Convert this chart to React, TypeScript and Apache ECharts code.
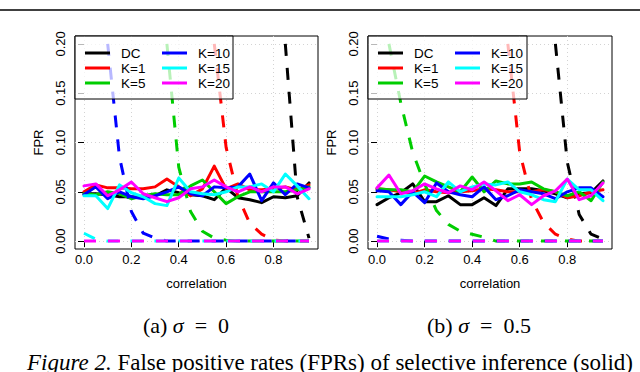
import React, { useEffect, useRef } from "react";
import * as echarts from "echarts";

const correlation = [0, 0.05, 0.1, 0.15, 0.2, 0.25, 0.3, 0.35, 0.4, 0.45, 0.5, 0.55, 0.6, 0.65, 0.7, 0.75, 0.8, 0.85, 0.9, 0.95];
const methods = ["DC", "K=1", "K=5", "K=10", "K=15", "K=20"];
const methodColors = ["#000000", "#FF0000", "#00CD00", "#0000FF", "#00FFFF", "#FF00FF"];
const xTicks = [0, 0.2, 0.4, 0.6, 0.8];
const yTicks = [0, 0.05, 0.1, 0.15, 0.2];

// (a) sigma = 0 : selective inference (solid)
const selA_DC = [0.048, 0.048, 0.047, 0.045, 0.045, 0.044, 0.046, 0.052, 0.049, 0.047, 0.046, 0.042, 0.054, 0.044, 0.042, 0.039, 0.045, 0.044, 0.046, 0.059];
const selA_K1 = [0.050, 0.057, 0.054, 0.054, 0.053, 0.053, 0.055, 0.063, 0.055, 0.046, 0.053, 0.076, 0.053, 0.058, 0.052, 0.052, 0.053, 0.055, 0.052, 0.057];
const selA_K5 = [0.048, 0.047, 0.050, 0.048, 0.043, 0.046, 0.048, 0.047, 0.047, 0.056, 0.062, 0.050, 0.038, 0.045, 0.050, 0.050, 0.050, 0.050, 0.052, 0.055];
const selA_K10 = [0.047, 0.055, 0.043, 0.050, 0.045, 0.043, 0.046, 0.050, 0.055, 0.048, 0.046, 0.055, 0.054, 0.055, 0.068, 0.041, 0.059, 0.047, 0.058, 0.054];
const selA_K15 = [0.046, 0.046, 0.033, 0.057, 0.049, 0.045, 0.038, 0.036, 0.064, 0.050, 0.048, 0.047, 0.050, 0.055, 0.055, 0.058, 0.050, 0.068, 0.056, 0.043];
const selA_K20 = [0.056, 0.058, 0.046, 0.052, 0.060, 0.048, 0.044, 0.040, 0.044, 0.053, 0.055, 0.062, 0.055, 0.050, 0.055, 0.050, 0.055, 0.055, 0.048, 0.053];

// (a) sigma = 0 : comparison method (dashed)
const dashA_DC = [null, null, null, null, null, null, null, null, null, null, null, null, null, null, null, null, null, 0.2, 0.045, 0.003];
const dashA_K1 = [null, null, null, null, null, null, null, null, null, null, null, 0.2, 0.095, 0.045, 0.018, 0.007, 0.001, 0, 0, 0];
const dashA_K5 = [null, null, null, null, null, null, null, 0.2, 0.075, 0.03, 0.01, 0.003, 0.001, 0, 0, 0, 0, 0, 0, 0];
const dashA_K10 = [null, null, 0.2, 0.085, 0.03, 0.008, 0.003, 0, 0, 0, 0, 0, 0, 0, 0, 0, 0, 0, 0, 0];
const dashA_K15 = [0.008, 0.002, 0, 0, 0, 0, 0, 0, 0, 0, 0, 0, 0, 0, 0, 0, 0, 0, 0, 0];
const dashA_K20 = [0, 0, 0, 0, 0, 0, 0, 0, 0, 0, 0, 0, 0, 0, 0, 0, 0, 0, 0, 0];

// (b) sigma = 0.5 : selective inference (solid)
const selB_DC = [0.037, 0.044, 0.049, 0.058, 0.040, 0.040, 0.046, 0.037, 0.037, 0.044, 0.036, 0.053, 0.053, 0.053, 0.051, 0.048, 0.044, 0.048, 0.049, 0.061];
const selB_K1 = [0.053, 0.052, 0.050, 0.048, 0.052, 0.050, 0.049, 0.050, 0.051, 0.053, 0.052, 0.050, 0.050, 0.050, 0.052, 0.050, 0.044, 0.046, 0.050, 0.052];
const selB_K5 = [0.053, 0.052, 0.052, 0.050, 0.066, 0.060, 0.055, 0.050, 0.065, 0.050, 0.061, 0.058, 0.058, 0.060, 0.053, 0.050, 0.046, 0.050, 0.041, 0.060];
const selB_K10 = [0.051, 0.050, 0.037, 0.050, 0.039, 0.059, 0.050, 0.047, 0.045, 0.055, 0.042, 0.046, 0.052, 0.050, 0.048, 0.043, 0.050, 0.054, 0.054, 0.045];
const selB_K15 = [0.045, 0.045, 0.045, 0.047, 0.050, 0.045, 0.060, 0.050, 0.055, 0.058, 0.057, 0.060, 0.050, 0.047, 0.042, 0.040, 0.063, 0.052, 0.052, 0.041];
const selB_K20 = [0.054, 0.067, 0.048, 0.051, 0.058, 0.053, 0.049, 0.056, 0.052, 0.060, 0.051, 0.041, 0.047, 0.037, 0.046, 0.051, 0.063, 0.042, 0.046, 0.059];

// (b) sigma = 0.5 : comparison method (dashed)
const dashB_DC = [null, null, null, null, null, null, null, null, null, null, null, null, null, null, null, 0.2, 0.08, 0.027, 0.007, 0.002];
const dashB_K1 = [null, null, null, null, null, null, null, null, null, null, null, 0.2, 0.09, 0.042, 0.019, 0.007, 0.002, 0, 0, 0];
const dashB_K5 = [null, 0.2, 0.14, 0.09, 0.058, 0.031, 0.017, 0.01, 0.007, 0.004, 0, 0, 0, 0, 0, 0, 0, 0, 0, 0];
const dashB_K10 = [0.005, 0.002, 0.001, 0, 0, 0, 0, 0, 0, 0, 0, 0, 0, 0, 0, 0, 0, 0, 0, 0];
const dashB_K15 = [0, 0, 0, 0, 0, 0, 0, 0, 0, 0, 0, 0, 0, 0, 0, 0, 0, 0, 0, 0];
const dashB_K20 = [0, 0, 0, 0, 0, 0, 0, 0, 0, 0, 0, 0, 0, 0, 0, 0, 0, 0, 0, 0];

const panelA = { solid: [selA_DC, selA_K1, selA_K5, selA_K10, selA_K15, selA_K20], dashed: [dashA_DC, dashA_K1, dashA_K5, dashA_K10, dashA_K15, dashA_K20] };
const panelB = { solid: [selB_DC, selB_K1, selB_K5, selB_K10, selB_K15, selB_K20], dashed: [dashB_DC, dashB_K1, dashB_K5, dashB_K10, dashB_K15, dashB_K20] };

const SANS = "'Liberation Sans', Arial, Helvetica, sans-serif";
const SERIF = "'Liberation Serif', 'Times New Roman', serif";

function makeX(gridIndex: number) {
  return {
    type: "value",
    gridIndex,
    min: -0.038,
    max: 0.988,
    name: "correlation",
    nameLocation: "middle",
    nameGap: 28,
    nameTextStyle: { fontFamily: SANS, fontSize: 13, color: "#000" },
    axisLine: { show: false },
    axisTick: { show: true, customValues: xTicks, length: 6, lineStyle: { color: "#000", width: 1 } },
    axisLabel: { customValues: xTicks, formatter: (v: number) => v.toFixed(1), margin: 4, fontFamily: SANS, fontSize: 13, color: "#000" },
    splitLine: { show: true, lineStyle: { color: "#D3D3D3", type: [1, 3], width: 1 } },
  };
}

function makeY(gridIndex: number) {
  return {
    type: "value",
    gridIndex,
    min: -0.008,
    max: 0.208,
    name: "FPR",
    nameLocation: "middle",
    nameGap: 30,
    nameRotate: 90,
    nameTextStyle: { fontFamily: SANS, fontSize: 13, color: "#000" },
    axisLine: { show: false },
    axisTick: { show: true, customValues: yTicks, length: 6, lineStyle: { color: "#000", width: 1 } },
    axisLabel: { customValues: yTicks, rotate: 90, formatter: (v: number) => v.toFixed(2), margin: 8, fontFamily: SANS, fontSize: 13, color: "#000" },
    splitLine: { show: true, lineStyle: { color: "#D3D3D3", type: [1, 3], width: 1 } },
  };
}

function makeSeries(panel: { solid: (number | null)[][]; dashed: (number | null)[][] }, idx: number) {
  const out: any[] = [];
  methods.forEach((m, i) => {
    const c = methodColors[i];
    out.push({
      type: "line",
      name: m,
      xAxisIndex: idx,
      yAxisIndex: idx,
      color: c,
      showSymbol: false,
      symbol: "none",
      data: correlation.map((x, j) => [x, panel.solid[i][j]]),
      lineStyle: { color: c, width: 3, type: "solid", cap: "round", join: "round" },
      itemStyle: { color: c },
      z: 2,
    });
    out.push({
      type: "line",
      name: m,
      xAxisIndex: idx,
      yAxisIndex: idx,
      color: c,
      showSymbol: false,
      symbol: "none",
      connectNulls: false,
      data: correlation.map((x, j) => [x, panel.dashed[i][j]]),
      lineStyle: { color: c, width: 3, type: [12, 12], cap: "butt", join: "round" },
      itemStyle: { color: c },
      z: 2,
    });
  });
  return out;
}

function makeLegend(names: string[], left: number) {
  return {
    data: names,
    left,
    top: 45.5,
    orient: "vertical",
    icon: "rect",
    itemWidth: 25,
    itemHeight: 3,
    itemGap: 0,
    padding: 0,
    selectedMode: false,
    textStyle: { fontFamily: SANS, fontSize: 13.5, lineHeight: 15, color: "#000", padding: [0, 0, 0, 6] },
  };
}

export default function App() {
  const ref = useRef<HTMLDivElement>(null);
  useEffect(() => {
    if (!ref.current) return;
    const chart = echarts.init(ref.current, null, { renderer: "svg" });
    chart.setOption({
      animation: false,
      backgroundColor: "#ffffff",
      grid: [
        { left: 75, top: 36, width: 243, height: 213, show: true, borderColor: "#000", borderWidth: 1, backgroundColor: "transparent" },
        { left: 368, top: 36, width: 244, height: 213, show: true, borderColor: "#000", borderWidth: 1, backgroundColor: "transparent" },
      ],
      xAxis: [makeX(0), makeX(1)],
      yAxis: [makeY(0), makeY(1)],
      legend: [
        makeLegend(methods.slice(0, 3), 85),
        makeLegend(methods.slice(3), 162),
        makeLegend(methods.slice(0, 3), 378),
        makeLegend(methods.slice(3), 455),
      ],
      graphic: [
        { type: "line", z: 3, shape: { x1: 0, y1: 10, x2: 640, y2: 10 }, style: { stroke: "#000", lineWidth: 1.5 } },
        { type: "rect", z: 3, shape: { x: 75, y: 36, width: 158, height: 63 }, style: { fill: "rgba(255,255,255,0.72)", stroke: "#000", lineWidth: 1 } },
        { type: "rect", z: 3, shape: { x: 368, y: 36, width: 159, height: 63 }, style: { fill: "rgba(255,255,255,0.72)", stroke: "#000", lineWidth: 1 } },
        {
          type: "text", z: 3, x: 186, y: 325,
          style: {
            text: "(a) {s|σ}  =  0", fontFamily: SERIF, fontSize: 22, fill: "#000", align: "center", verticalAlign: "middle",
            rich: { s: { fontStyle: "italic", fontFamily: SERIF, fontSize: 22, fill: "#000" } },
          },
        },
        {
          type: "text", z: 3, x: 479, y: 325,
          style: {
            text: "(b) {s|σ}  =  0.5", fontFamily: SERIF, fontSize: 22, fill: "#000", align: "center", verticalAlign: "middle",
            rich: { s: { fontStyle: "italic", fontFamily: SERIF, fontSize: 22, fill: "#000" } },
          },
        },
        {
          type: "text", z: 3, x: 27, y: 351,
          style: {
            text: "{i|Figure 2.} False positive rates (FPRs) of selective inference (solid)", fontFamily: SERIF, fontSize: 23, fill: "#000", align: "left", verticalAlign: "top",
            rich: { i: { fontStyle: "italic", fontFamily: SERIF, fontSize: 23, fill: "#000" } },
          },
        },
      ],
      series: [...makeSeries(panelA, 0), ...makeSeries(panelB, 1)],
    });
    return () => chart.dispose();
  }, []);
  return <div ref={ref} style={{ position: "fixed", left: 0, top: 0, width: 640, height: 372, background: "#fff" }} />;
}
